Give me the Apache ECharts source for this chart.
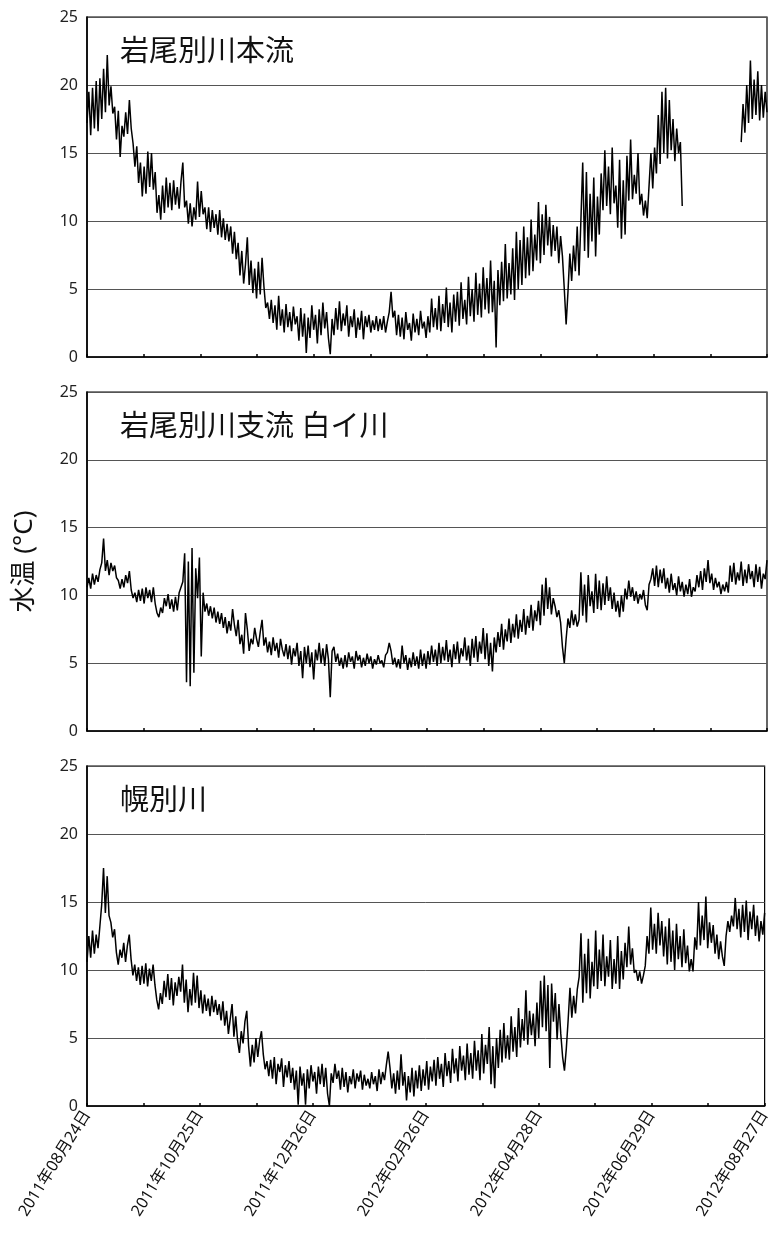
<!DOCTYPE html>
<html><head><meta charset="utf-8">
<script src="https://cdn.jsdelivr.net/npm/echarts@6/dist/echarts.min.js"></script>
<style>html,body{margin:0;padding:0;background:#fff}#c{width:773px;height:1235px}</style>
</head><body><div id="c"></div>
<script>
// Tick labels (every 61.5 days from 2011-08-24)
const tickLabels = ['2011年08月24日','2011年10月25日','2011年12月26日','2012年02月26日','2012年04月28日','2012年06月29日','2012年08月27日'];
const panelTitles = ['岩尾別川本流','岩尾別川支流 白イ川','幌別川'];
const yAxisName = '水温 (°C)';
const yTicks = [0,5,10,15,20,25];

// Daily water temperature (°C), day 0 = 2011-08-24
const N = null;
const mainStream = [
17.2,19.5,16.3,19.8,16.8,20.3,16.6,20.5,17.5,21.2,
18.0,22.2,18.5,19.9,17.9,18.4,16.0,18.1,14.7,17.0,
16.2,18.0,16.4,18.9,16.8,15.7,14.0,15.5,12.8,14.3,
11.8,14.0,12.0,15.1,12.5,15.0,12.3,13.6,10.6,11.9,
10.1,12.6,10.6,13.2,11.0,12.8,10.8,13.0,11.2,12.5,
10.9,12.9,14.3,11.0,11.5,9.8,11.3,9.6,11.0,10.1,
12.9,10.3,12.2,10.5,11.0,9.4,11.0,9.2,10.8,9.5,
10.5,9.0,10.8,8.8,10.2,8.6,9.8,8.5,9.6,7.6,
9.2,7.2,8.4,6.0,7.8,5.4,6.8,8.8,5.3,7.1,
4.7,6.5,4.3,7.0,4.6,7.3,5.2,3.6,4.0,2.8,
4.2,2.5,3.8,2.0,4.5,2.3,3.5,1.8,3.9,2.2,
3.3,1.9,3.7,2.4,3.0,1.2,3.6,1.5,3.2,0.3,
2.9,1.4,3.8,2.0,3.1,1.0,3.5,1.6,4.0,2.1,
3.3,1.4,0.2,2.8,1.6,3.6,2.0,4.1,1.9,3.2,
2.3,3.8,1.5,3.0,2.2,3.5,1.4,2.9,2.0,3.4,
1.3,3.0,2.2,3.1,1.8,2.7,2.0,3.0,1.9,2.8,
2.0,3.0,1.8,2.6,3.3,4.8,2.9,3.4,1.6,3.1,
1.5,2.9,1.3,3.3,2.0,2.5,1.2,3.2,1.8,2.8,
1.6,3.4,2.1,2.6,1.4,3.0,1.8,4.3,2.2,3.6,
2.0,4.5,1.9,3.9,2.5,5.1,2.2,4.0,1.8,4.6,
2.6,4.8,2.3,5.5,2.8,4.2,2.4,5.9,3.0,5.0,
2.6,6.2,3.1,5.4,2.9,6.6,3.5,5.8,3.2,7.1,
3.3,5.6,0.7,6.4,3.8,7.0,4.1,8.3,4.3,6.9,
4.6,8.0,4.2,9.2,5.0,8.6,5.3,9.6,5.8,8.8,
6.0,10.1,6.3,9.0,7.1,11.4,6.9,10.5,7.5,11.2,
8.2,10.3,7.4,9.7,7.8,9.6,6.9,8.9,7.4,5.0,
2.4,4.8,7.6,5.6,8.2,6.3,9.6,6.0,10.0,14.3,
7.8,13.6,7.3,12.0,8.5,13.2,7.4,11.8,9.0,13.5,
10.8,15.2,11.1,14.0,10.5,15.4,11.3,12.6,9.5,14.5,
8.7,13.0,9.0,14.8,11.5,16.0,11.6,13.4,12.0,15.0,
11.2,12.0,10.4,11.5,10.2,12.6,15.0,12.4,15.4,13.5,
17.8,14.2,19.5,15.0,19.8,14.6,18.9,15.2,17.5,14.4,
16.8,15.0,15.8,11.1,N,N,N,N,N,N,
N,N,N,N,N,N,N,N,N,N,
N,N,N,N,N,N,N,N,N,N,
N,N,N,N,N,15.8,18.6,16.5,20.0,17.2,
21.8,17.5,20.4,17.8,21.0,17.4,20.0,17.6,19.5,18.0
];
const shiroiGawa = [
10.6,11.3,10.5,11.6,10.8,11.5,11.0,11.9,12.4,14.2,
11.8,12.6,11.5,12.4,11.8,12.2,11.3,11.1,10.5,11.2,
10.6,11.5,10.9,11.8,10.4,9.8,10.2,9.5,10.4,9.6,
10.5,9.4,10.6,9.8,10.4,9.5,10.6,9.4,8.7,8.4,
9.1,8.7,9.8,9.2,10.1,9.0,9.7,8.8,9.9,8.9,
10.2,10.6,11.0,13.1,3.6,12.5,3.3,13.5,4.3,12.0,
9.8,12.8,5.5,10.2,8.8,9.4,8.5,9.2,8.3,9.1,
8.0,8.8,7.9,8.7,7.6,8.4,7.2,8.1,7.4,9.0,
7.8,7.0,8.2,6.4,7.1,5.7,8.7,7.5,5.9,6.8,
6.4,7.6,6.8,6.2,7.3,8.2,6.3,6.9,5.8,6.6,
5.6,6.9,5.9,6.5,5.4,6.8,6.0,5.5,6.4,5.3,
6.3,4.9,6.1,5.5,6.5,4.8,5.9,3.9,6.2,5.0,
6.3,4.7,5.8,3.8,6.0,5.2,6.5,5.0,6.1,4.8,
6.4,5.3,2.5,5.9,6.2,5.1,5.7,4.8,5.4,4.6,
5.6,4.7,5.8,5.1,5.5,4.6,5.9,5.2,5.6,4.7,
5.4,4.8,5.7,5.0,5.5,4.6,5.3,4.9,5.6,5.0,
5.2,4.7,5.6,5.8,6.5,5.9,4.9,5.4,4.7,5.3,
4.6,6.3,5.0,5.6,4.5,5.4,4.7,5.8,4.8,5.5,
4.6,6.0,4.8,5.7,4.6,5.9,4.9,6.3,5.1,6.0,
4.8,6.5,5.0,6.2,5.2,6.7,5.1,6.0,4.7,6.4,
5.3,6.6,5.0,6.1,5.5,6.9,5.2,6.3,4.8,6.8,
5.4,7.0,5.1,6.6,5.7,7.6,5.3,7.2,4.8,6.5,
4.4,6.9,5.8,7.3,6.2,7.9,6.0,7.5,6.6,8.3,
6.5,7.9,6.9,8.6,6.8,8.2,7.3,9.0,7.1,8.5,
7.6,9.3,7.4,8.9,8.1,9.6,7.8,10.8,8.5,11.3,
9.0,10.6,8.6,9.8,9.2,8.4,8.9,8.0,6.2,5.0,
6.8,8.3,7.6,8.9,7.8,8.6,7.7,8.2,11.7,8.5,
10.8,8.0,11.5,9.2,10.3,8.7,11.6,9.0,11.1,8.9,
10.9,9.3,11.4,9.6,10.6,9.0,10.2,8.8,9.6,8.4,
10.0,8.8,10.5,9.7,11.1,9.9,10.6,9.6,10.3,9.4,
10.1,9.7,10.4,9.3,8.9,10.8,11.2,12.0,10.7,12.2,
10.6,11.9,10.9,12.0,10.5,11.3,10.2,11.6,10.4,10.9,
10.0,11.4,10.3,11.0,9.9,10.8,10.1,11.2,9.9,10.6,
10.3,11.5,10.6,11.8,10.4,12.0,11.0,12.6,10.9,11.6,
10.4,11.3,10.6,11.0,10.1,10.8,10.3,11.0,10.2,12.2,
11.0,12.4,10.8,11.7,11.1,12.5,10.7,11.9,10.9,12.3,
11.2,11.8,10.6,12.3,11.0,12.1,10.5,11.6,11.2,12.6
];
const horobetsu = [
10.6,12.5,10.9,12.9,11.2,12.6,11.6,13.2,14.8,17.5,
14.2,16.9,14.0,13.5,12.4,13.0,11.3,10.4,11.5,10.9,
12.0,10.6,11.8,12.6,10.8,9.6,10.4,9.2,10.2,8.9,
10.3,9.0,10.5,8.8,10.1,9.2,10.4,8.9,7.8,7.1,
8.3,7.5,9.2,8.0,9.7,7.8,9.4,7.4,9.1,8.1,
9.5,8.4,10.4,7.6,9.3,6.9,8.6,7.4,9.8,7.6,
9.6,7.2,8.5,6.8,8.2,7.0,7.9,6.6,8.1,6.9,
7.8,6.7,7.5,6.3,7.7,5.9,7.0,5.3,6.4,7.5,
5.1,6.6,4.8,3.9,5.5,4.6,6.2,7.0,4.4,2.9,
4.5,3.2,5.0,3.6,4.8,5.5,3.8,2.7,3.3,2.2,
3.4,2.0,3.6,1.6,3.1,2.5,3.5,1.4,3.0,2.1,
3.3,1.7,2.8,1.2,2.6,0.1,2.9,1.5,2.4,0.1,
2.7,1.3,3.0,1.8,2.5,0.9,2.9,1.6,3.1,1.4,
2.8,0.9,0.0,2.4,1.7,3.1,2.0,2.6,1.2,2.8,
1.4,2.5,1.0,2.2,1.6,2.7,1.3,2.4,1.8,2.6,
1.2,2.3,1.5,2.0,1.3,2.5,1.6,2.2,1.1,2.7,
1.6,2.5,1.9,3.0,4.0,2.8,1.3,2.4,0.9,2.6,
1.2,3.8,1.5,2.5,0.4,2.2,1.0,2.8,0.7,2.6,
1.3,3.0,1.1,2.7,1.5,3.3,1.2,2.9,1.8,3.4,
1.5,3.6,2.0,3.1,1.4,3.9,2.2,3.3,1.7,4.2,
2.4,3.5,1.8,4.4,2.6,3.7,1.9,4.6,2.3,3.9,
2.0,4.8,2.6,4.1,1.9,5.3,2.4,4.5,3.1,5.8,
1.6,4.4,1.3,5.0,2.8,5.6,3.2,6.1,3.5,5.2,
3.4,6.6,4.0,5.8,3.6,7.2,4.3,6.4,4.8,8.5,
4.5,7.0,5.2,6.8,4.4,7.6,5.0,9.2,5.8,9.6,
5.5,8.9,2.8,9.0,6.2,8.3,4.9,7.5,5.3,3.6,
2.6,4.2,6.3,8.7,6.5,8.1,6.8,8.6,9.5,12.7,
7.6,11.2,8.3,12.3,7.9,10.6,8.8,12.9,8.6,11.5,
9.2,12.6,8.8,11.0,9.5,12.2,8.6,10.8,9.0,12.5,
8.6,11.4,9.3,12.0,10.2,13.2,10.4,11.6,9.8,10.0,
9.2,9.9,9.0,9.6,10.3,12.5,11.2,14.6,11.5,13.4,
11.2,14.2,11.8,13.6,11.0,13.2,10.4,13.8,10.6,12.9,
10.0,13.4,10.8,12.5,10.2,13.0,10.5,11.8,9.9,10.8,
9.9,12.4,11.5,15.0,11.8,14.0,12.2,15.4,11.6,13.5,
12.0,13.3,11.2,12.6,10.8,12.1,11.0,10.3,12.5,13.6,
12.8,14.0,13.2,15.3,13.0,14.5,12.4,14.8,12.8,15.1,
12.2,14.3,13.0,14.8,12.5,14.0,12.1,13.6,12.6,14.2
];

const seriesData = [mainStream, shiroiGawa, horobetsu];
const totalDays = 369, majorStep = 61.5, minorStep = 30.75;
const FONT = '"Noto Sans", "Noto Sans CJK JP", sans-serif';
const grids = [
  {left:87, right:6, top:17, height:340},
  {left:87, right:6, top:392, height:339},
  {left:87, right:6, top:766, height:340}
];
const chart = echarts.init(document.getElementById('c'), null, {renderer:'canvas'});
const option = {
  animation:false,
  backgroundColor:'#fff',
  title: panelTitles.map((t,i)=>({text:t, left:115, top:grids[i].top+16,
    textStyle:{fontFamily:FONT, fontSize:29, fontWeight:'normal', color:'#111'}})),
  grid: grids.map(g=>Object.assign({show:true, borderColor:'#000', borderWidth:1.2, backgroundColor:'transparent'}, g)),
  xAxis: grids.map((g,i)=>({
    type:'value', gridIndex:i, min:0, max:totalDays, interval:minorStep,
    axisLine:{show:true, onZero:false, lineStyle:{color:'#000', width:1.6}},
    axisTick:{show:true, inside:true, length:3, lineStyle:{color:'#000', width:1.5}},
    splitLine:{show:false},
    axisLabel:{show:i===2, rotate:58, fontSize:16, color:'#111', fontFamily:FONT, margin:6,
      formatter:(v)=>{const k=Math.round(v/majorStep); return Math.abs(v-k*majorStep)<1e-6 ? (tickLabels[k]||'') : '';}}
  })),
  yAxis: grids.map((g,i)=>({
    type:'value', gridIndex:i, min:yTicks[0], max:yTicks[yTicks.length-1], interval:5,
    name: i===1 ? yAxisName : '', nameLocation:'middle', nameGap:49, nameRotate:90,
    nameTextStyle:{fontFamily:FONT, fontSize:26, color:'#111'},
    axisLine:{show:true, lineStyle:{color:'#000', width:1.6}},
    axisTick:{show:false},
    splitLine:{show:true, lineStyle:{color:'#555', width:1}},
    axisLabel:{fontSize:16, color:'#222', fontFamily:FONT, margin:9}
  })),
  series: seriesData.map((arr,i)=>({
    type:'line', xAxisIndex:i, yAxisIndex:i, showSymbol:false, symbol:'none',
    connectNulls:false, lineStyle:{color:'#000', width:1.5},
    data: arr.map((v,d)=>[d, v])
  }))
};
chart.setOption(option);
</script>
</body></html>
